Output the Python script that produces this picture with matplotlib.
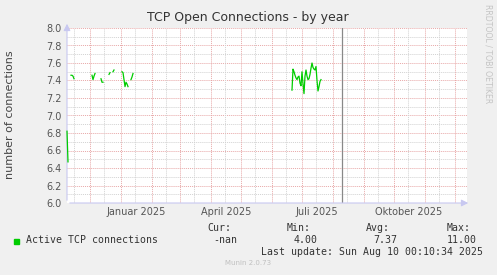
import numpy as np
import pandas as pd
import matplotlib
matplotlib.use("Agg")
import matplotlib.pyplot as plt

nan = np.nan
dates = [
    "2024-11-08", "2024-11-09", "2024-11-10",
    "2024-11-12", "2024-11-13", "2024-11-14", "2024-11-15", "2024-11-16",
    "2024-12-03", "2024-12-04", "2024-12-05", "2024-12-06", "2024-12-07",
    "2024-12-12", "2024-12-13", "2024-12-14", "2024-12-15",
    "2024-12-20", "2024-12-21", "2024-12-22",
    "2024-12-24", "2024-12-25", "2024-12-26",
    "2025-01-02", "2025-01-03", "2025-01-04", "2025-01-05", "2025-01-06",
    "2025-01-07", "2025-01-08", "2025-01-09",
    "2025-01-11", "2025-01-12", "2025-01-13", "2025-01-14",
] + [d.strftime("%Y-%m-%d") for d in pd.date_range("2025-06-21", "2025-07-21")]
values = [
    6.82, 6.47, nan,
    7.46, 7.46, 7.45, 7.42, nan,
    7.46, 7.41, 7.45, 7.48, nan,
    7.42, 7.38, 7.38, nan,
    7.47, 7.49, nan,
    7.50, 7.52, nan,
    7.50, 7.49, 7.41, 7.33, 7.38,
    7.36, 7.33, nan,
    7.41, 7.44, 7.48, nan,
    # 2025-06-21 .. 2025-07-20, then gap
    7.29, 7.53, 7.50, 7.46, 7.43, 7.41, 7.44, 7.45, 7.37, 7.34,
    7.50, 7.36, 7.25, 7.45, 7.52, 7.45, 7.41, 7.42, 7.47, 7.54,
    7.60, 7.55, 7.53, 7.52, 7.56, 7.40, 7.28, 7.33, 7.39, 7.41,
    nan,
]
series_label = "Active TCP connections"
month_labels = ["Januar 2025", "April 2025", "Juli 2025", "Oktober 2025"]
label_months = ["2025-01-01", "2025-04-01", "2025-07-01", "2025-10-01"]
stat_names = ["Cur:", "Min:", "Avg:", "Max:"]
stat_values = ["-nan", "4.00", "7.37", "11.00"]
last_update = "2025-08-10"
title = "TCP Open Connections - by year"
ylabel = "number of connections"
x_start, x_end = "2024-11-08", "2025-12-13"

W, H = 497, 275
fig = plt.figure(figsize=(W / 100, H / 100), dpi=100, facecolor="#F0F0F0")
L, R, T, B = 67, 467, 28, 203
ax = fig.add_axes([L / W, 1 - B / H, (R - L) / W, (B - T) / H])
ax.set_facecolor("white")

x0, x1 = pd.Timestamp(x_start), pd.Timestamp(x_end)
ax.set_xlim(x0, x1)
ax.set_ylim(6.0, 8.0)
for s in ax.spines.values():
    s.set_visible(False)

minor_col = "#d2d2d2"
major_col = "#e8a8a8"
dot = (0, (1.0, 1.0))
# horizontal grid
for v in np.arange(6.1, 8.0, 0.2):
    ax.axhline(v, color=minor_col, lw=0.7, ls=dot, zorder=1)
for v in np.arange(6.2, 8.01, 0.2):
    ax.axhline(v, color=major_col, lw=0.7, ls=dot, zorder=1)
# vertical grid
months = pd.date_range("2024-11-01", "2025-12-31", freq="MS")
for m in months:
    mid = m + pd.Timedelta(days=14)
    if x0 < mid < x1:
        ax.axvline(mid, color=minor_col, lw=0.7, ls=dot, zorder=1)
    if x0 < m < x1:
        ax.axvline(m, color=major_col, lw=0.7, ls=dot, zorder=1)

ax.set_yticks(np.round(np.arange(6.0, 8.01, 0.2), 1))
ax.set_yticklabels([f"{v:.1f}" for v in np.arange(6.0, 8.01, 0.2)])
lab_pos = [pd.Timestamp(m) + pd.Timedelta(days=15) for m in label_months]
ax.set_xticks(lab_pos)
ax.set_xticklabels(month_labels)
ax.tick_params(axis="both", length=0, labelsize=7, labelcolor="#555555", pad=3)
ax.tick_params(axis="y", pad=4)

# axes lines with arrows
axis_col = "#c8c8f0"
ax.annotate("", xy=(1.01, 0), xytext=(0, 0), xycoords="axes fraction",
            arrowprops=dict(arrowstyle="-|>,head_length=0.4,head_width=0.2",
                            color=axis_col, lw=0.8), zorder=5)
ax.annotate("", xy=(0, 1.04), xytext=(0, 0), xycoords="axes fraction",
            arrowprops=dict(arrowstyle="-|>,head_length=0.4,head_width=0.2",
                            color=axis_col, lw=0.8), zorder=5)

ax.axvline(pd.Timestamp(last_update), color="#888888", lw=0.9, zorder=3)

ax.plot(pd.to_datetime(dates), values, color="#00CC00", lw=0.9, zorder=6,
        clip_on=False)

def px(x, y):
    return x / W, 1 - y / H

fig.text(*px(248, 18), title, ha="center", va="center", fontsize=9,
         color="#333333")
fig.text(*px(10, 115), ylabel, ha="center", va="center", rotation=90,
         fontsize=8, color="#444444")
fig.text(*px(488, 54), "RRDTOOL / TOBI OETIKER", ha="center", va="center",
         rotation=270, fontsize=5.6, color="#c4c4c4")

mono = "DejaVu Sans Mono"
fs = 7.1
fig.patches.append(plt.Rectangle(px(14, 244), 5 / W, 5 / H,
                                  transform=fig.transFigure,
                                  color="#00CC00", figure=fig))
fig.text(*px(26, 240), series_label, ha="left", va="center", family=mono,
         fontsize=fs, color="#333333")
hdr_x = [231, 311, 390, 471]
val_x = [237, 318, 397, 477]
for nm, vl, hx, vx in zip(stat_names, stat_values, hdr_x, val_x):
    fig.text(*px(hx, 228), nm, ha="right", va="center", family=mono,
             fontsize=fs, color="#333333")
    fig.text(*px(vx, 240), vl, ha="right", va="center", family=mono,
             fontsize=fs, color="#333333")
fig.text(*px(483, 252), "Last update: Sun Aug 10 00:10:34 2025", ha="right",
         va="center", family=mono, fontsize=fs, color="#333333")
fig.text(*px(248, 263), "Munin 2.0.73", ha="center", va="center",
         fontsize=5, color="#c0c0c0")

fig.savefig("out.png", dpi=100, facecolor=fig.get_facecolor())
